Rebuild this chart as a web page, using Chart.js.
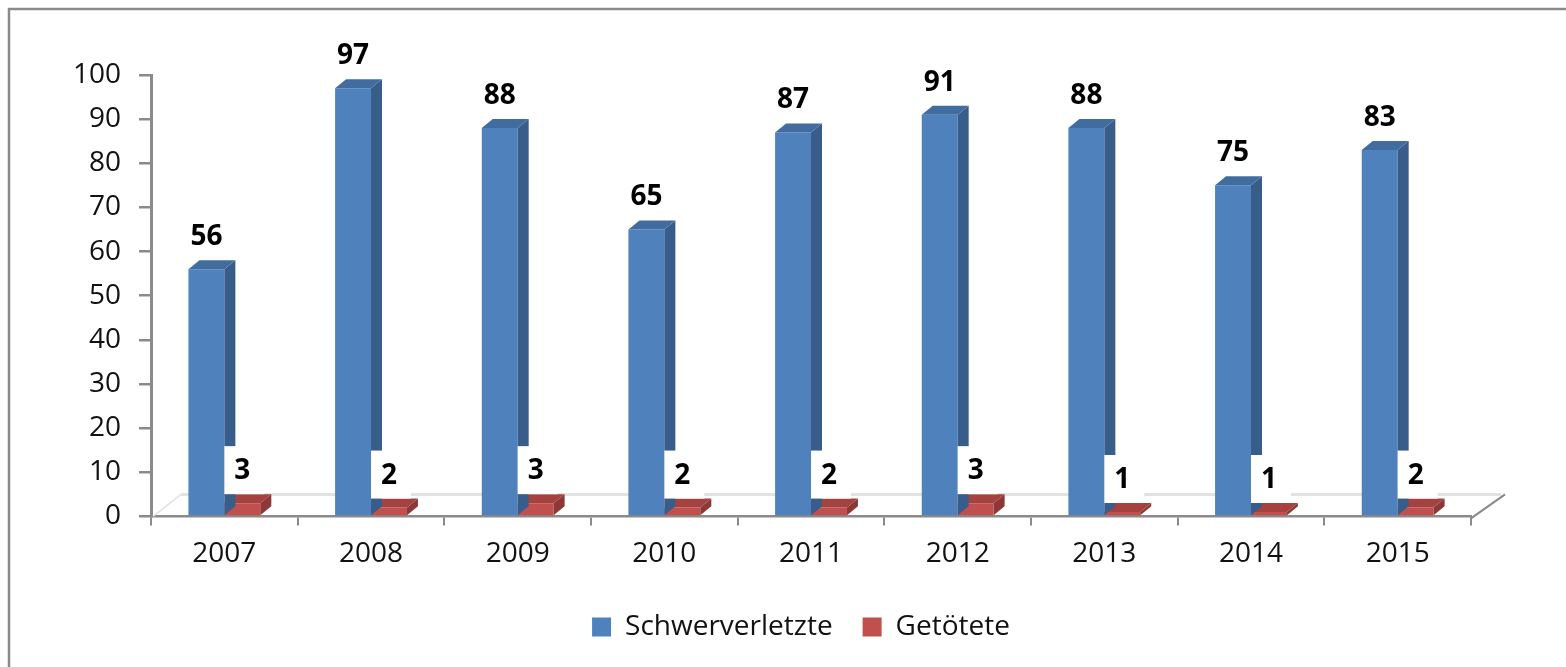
<!DOCTYPE html>
<html>
<head>
<meta charset="utf-8">
<script src="https://cdn.jsdelivr.net/npm/chart.js@4"></script>
<style>
  html, body { margin: 0; padding: 0; background: #fff; }
  canvas { display: block; }
</style>
</head>
<body>
<canvas id="chart" width="1566" height="667"></canvas>
<script>
const years = ["2007", "2008", "2009", "2010", "2011", "2012", "2013", "2014", "2015"];
const schwerverletzte = [56, 97, 88, 65, 87, 91, 88, 75, 83];
const getoetete = [3, 2, 3, 2, 2, 3, 1, 1, 2];

const FONT = "'Open Sans', 'DejaVu Sans', sans-serif";
const DX = 11, DY = 9;          // bar depth
const FLOOR_DX = 30, FLOOR_DY = 22;

const shades = [
  { side: "#385D8A", top: "#416CA0" },
  { side: "#8C3836", top: "#A5413E" }
];

// frame + floor behind the bars
const backdrop = {
  id: "backdrop",
  afterLayout(chart) {
    // legend in the original sits centred on the whole frame, not the padded area
    chart.legend.left += 38;
    chart.legend.right += 38;
  },
  beforeDraw(chart) {
    const c = chart.ctx;
    c.save();
    c.strokeStyle = "#8a8a8a";
    c.lineWidth = 2.5;
    c.strokeRect(9, 9, 1620, 720);
    c.restore();
  },
  beforeDatasetsDraw(chart) {
    const c = chart.ctx;
    const a = chart.chartArea;
    const y0 = chart.scales.y.getPixelForValue(0);
    c.save();
    c.strokeStyle = "#e2e2e2";
    c.lineWidth = 3;
    c.beginPath();
    c.moveTo(a.left + FLOOR_DX, y0 - FLOOR_DY);
    c.lineTo(a.right + FLOOR_DX, y0 - FLOOR_DY);
    c.stroke();
    c.lineWidth = 1.5;
    c.beginPath();
    c.moveTo(a.left + 2, y0);
    c.lineTo(a.left + FLOOR_DX, y0 - FLOOR_DY);
    c.stroke();
    c.strokeStyle = "#8a8a8a";
    c.lineWidth = 2;
    c.beginPath();
    c.moveTo(a.right, y0 + 2);
    c.lineTo(a.right + FLOOR_DX + 4, y0 - FLOOR_DY);
    c.stroke();
    c.restore();
  }
};

// side and top faces of each bar
const bars3d = {
  id: "bars3d",
  afterDatasetDraw(chart, args) {
    const c = chart.ctx;
    const s = shades[args.index];
    c.save();
    args.meta.data.forEach(bar => {
      const l = bar.x - bar.width / 2, r = bar.x + bar.width / 2;
      const t = bar.y, b = bar.base;
      c.fillStyle = s.side;
      c.beginPath();
      c.moveTo(r, t); c.lineTo(r + DX, t - DY); c.lineTo(r + DX, b - DY); c.lineTo(r, b);
      c.closePath(); c.fill();
      c.fillStyle = s.top;
      c.beginPath();
      c.moveTo(l, t); c.lineTo(l + DX, t - DY); c.lineTo(r + DX, t - DY); c.lineTo(r, t);
      c.closePath(); c.fill();
    });
    c.restore();
  }
};

// value labels
const valueLabels = {
  id: "valueLabels",
  afterDatasetsDraw(chart) {
    const c = chart.ctx;
    c.save();
    c.font = "bold 28px " + FONT;
    c.textAlign = "center";
    c.textBaseline = "middle";
    chart.data.datasets.forEach((ds, i) => {
      chart.getDatasetMeta(i).data.forEach((bar, j) => {
        const ty = bar.y - 32;
        if (i === 1) {
          const l = bar.x - bar.width / 2;
          c.fillStyle = "#ffffff";
          c.fillRect(l, ty - 25, bar.width + 4, bar.y - DY - (ty - 25));
        }
        c.fillStyle = "#000000";
        c.fillText(String(ds.data[j]), bar.x, ty);
      });
    });
    c.restore();
  }
};

new Chart(document.getElementById("chart"), {
  type: "bar",
  data: {
    labels: years,
    datasets: [
      { label: "Schwerverletzte", data: schwerverletzte, backgroundColor: "#4F81BD" },
      { label: "Getötete", data: getoetete, backgroundColor: "#C0504D" }
    ]
  },
  options: {
    responsive: false,
    animation: false,
    barPercentage: 1,
    categoryPercentage: 0.49,
    layout: { padding: { left: 55, right: 95, top: 75, bottom: 16 } },
    plugins: {
      legend: {
        position: "bottom",
        labels: {
          font: { family: FONT, size: 28 },
          color: "#111",
          boxWidth: 19,
          boxHeight: 19,
          padding: 30
        }
      },
      tooltip: { enabled: false }
    },
    scales: {
      x: {
        grid: { drawOnChartArea: false, tickLength: 9, color: "#8a8a8a", lineWidth: 2 },
        border: { color: "#8a8a8a", width: 2.5 },
        ticks: { font: { family: FONT, size: 28 }, color: "#111", padding: 12, maxRotation: 0 }
      },
      y: {
        min: 0,
        max: 100,
        grid: { drawOnChartArea: false, tickLength: 12, color: "#8a8a8a", lineWidth: 2.5 },
        border: { color: "#8a8a8a", width: 3 },
        ticks: { stepSize: 10, font: { family: FONT, size: 28 }, color: "#111", padding: 18 }
      }
    }
  },
  plugins: [backdrop, bars3d, valueLabels]
});
</script>
</body>
</html>
